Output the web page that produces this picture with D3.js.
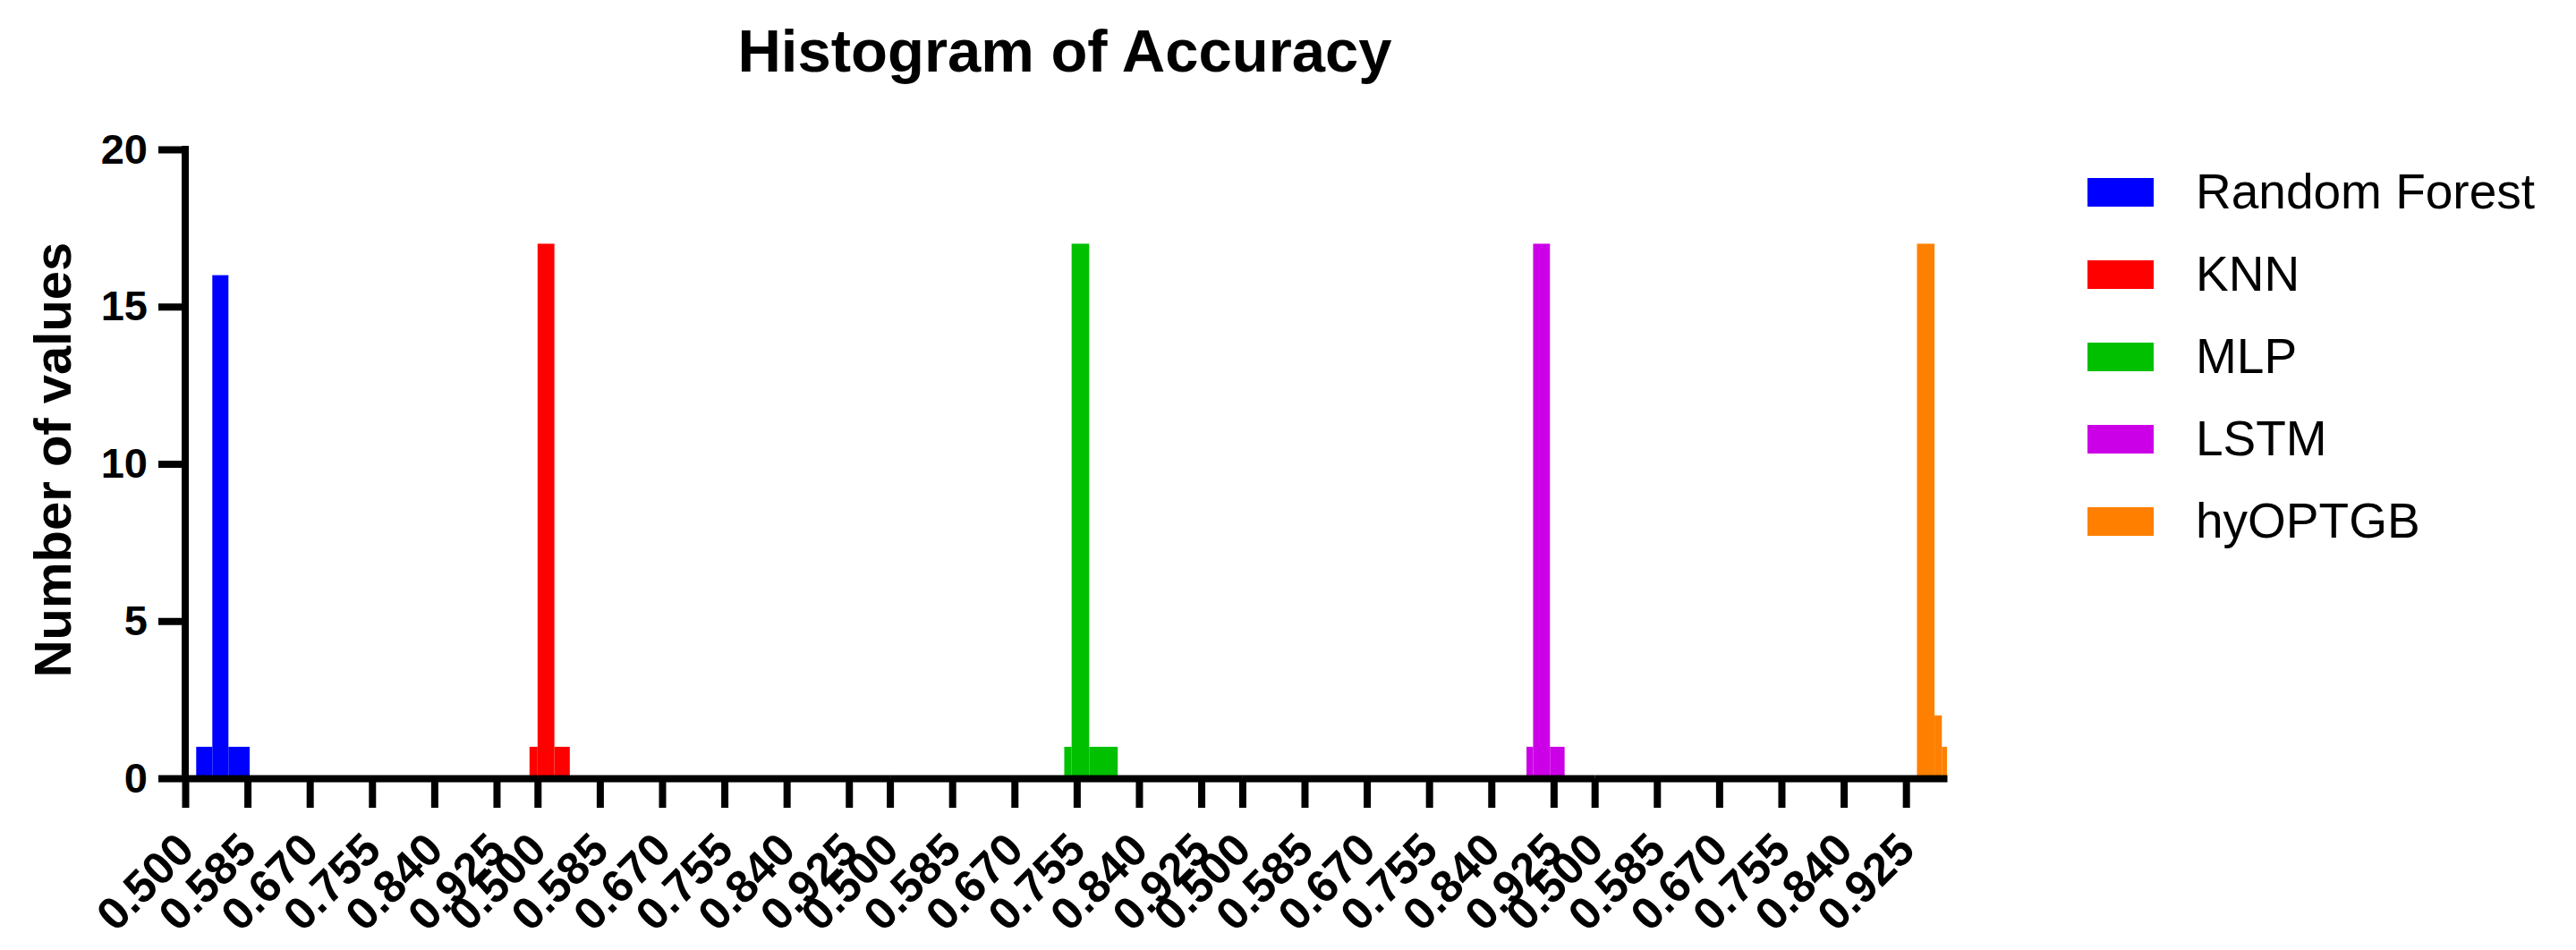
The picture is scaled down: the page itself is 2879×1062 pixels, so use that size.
<!DOCTYPE html>
<html lang="en">
<head>
  <meta charset="UTF-8">
  <title>Histogram of Accuracy</title>
  <script src="https://d3js.org/d3.v7.min.js"></script>
  <style>
    body { margin: 0; background: #fff; }
    text { font-family: "Liberation Sans", Arial, sans-serif; fill: #000; }
    .axis path, .axis line { stroke: #000; }
  </style>
</head>
<body>
<script>
// chart size
var width = 2879,
    height = 1062;

// data
var seriesNames = ["Random Forest", "KNN", "MLP", "LSTM", "hyOPTGB"];
var seriesColors = ["#0000ff", "#ff0000", "#00c000", "#cc00e6", "#ff8000"];
var xTicks = [0.500, 0.585, 0.670, 0.755, 0.840, 0.925];
var yTicks = [0, 5, 10, 15, 20];

// bin edges (accuracy) and counts, one pair per model
var rfEdges   = [0.515, 0.537, 0.559, 0.588];
var rfCounts  = [1, 16, 1];
var knnEdges  = [0.489, 0.500, 0.523, 0.544];
var knnCounts = [1, 17, 1];
var mlpEdges  = [0.738, 0.748, 0.772, 0.811];
var mlpCounts = [1, 17, 1];
var lstmEdges  = [0.888, 0.897, 0.920, 0.940];
var lstmCounts = [1, 17, 1];
var hyEdges   = [0.940, 0.964, 0.974, 0.981];
var hyCounts  = [17, 2, 1];

var allEdges = [rfEdges, knnEdges, mlpEdges, lstmEdges, hyEdges];
var allCounts = [rfCounts, knnCounts, mlpCounts, lstmCounts, hyCounts];

// layout
var plotLeft = 207, panelW = 393.8, plotTop = 167, plotBottom = 870;

var svg = d3.select("body").append("svg")
    .attr("width", width)
    .attr("height", height);

svg.append("rect").attr("width", width).attr("height", height).attr("fill", "#fff");

var x = d3.scaleLinear().domain([0.5, 0.981]).range([0, panelW]);
var y = d3.scaleLinear().domain([0, 20]).range([plotBottom, plotTop]);

// bars, one panel per model
seriesNames.forEach(function(name, i) {
  var edges = allEdges[i], counts = allCounts[i];
  var bins = counts.map(function(c, j) { return {x0: edges[j], x1: edges[j + 1], n: c}; });
  var g = svg.append("g").attr("transform", "translate(" + (plotLeft + i * panelW) + ",0)");
  g.selectAll("rect").data(bins).enter().append("rect")
    .attr("x", function(d) { return x(d.x0); })
    .attr("width", function(d) { return x(d.x1) - x(d.x0); })
    .attr("y", function(d) { return y(d.n); })
    .attr("height", function(d) { return y(0) - y(d.n); })
    .attr("fill", seriesColors[i]);
});

// x axes, repeated for every panel
seriesNames.forEach(function(name, i) {
  var ax = svg.append("g")
      .attr("class", "axis")
      .attr("transform", "translate(" + (plotLeft + i * panelW) + "," + plotBottom + ")")
      .call(d3.axisBottom(x).tickValues(xTicks).tickFormat(d3.format(".3f")).tickSize(33).tickSizeOuter(0));
  ax.select(".domain").attr("stroke-width", 8);
  ax.selectAll(".tick line").attr("stroke-width", 8);
  ax.selectAll(".tick text")
    .attr("font-size", 51)
    .attr("font-weight", "bold")
    .attr("text-anchor", "end")
    .attr("x", 12)
    .attr("y", 83)
    .attr("dy", 0)
    .attr("transform", "rotate(-45,12,83)");
});

// y axis
var yAx = svg.append("g")
    .attr("class", "axis")
    .attr("transform", "translate(" + plotLeft + ",0)")
    .call(d3.axisLeft(y).tickValues(yTicks).tickSize(30).tickSizeOuter(0).tickPadding(12));
yAx.select(".domain").attr("stroke-width", 8).attr("d", "M0," + (plotTop - 4) + "V" + (plotBottom + 4));
yAx.selectAll(".tick line").attr("stroke-width", 8);
yAx.selectAll(".tick text")
  .attr("font-size", 47)
  .attr("font-weight", "bold");

// titles
svg.append("text")
  .attr("x", 1190).attr("y", 80)
  .attr("text-anchor", "middle")
  .attr("font-size", 67)
  .attr("font-weight", "bold")
  .text("Histogram of Accuracy");

svg.append("text")
  .attr("transform", "translate(79,514) rotate(-90)")
  .attr("text-anchor", "middle")
  .attr("font-size", 58)
  .attr("font-weight", "bold")
  .text("Number of values");

// legend
var legend = svg.append("g").attr("transform", "translate(2333,199)");
var rows = legend.selectAll("g").data(seriesNames).enter().append("g")
  .attr("transform", function(d, i) { return "translate(0," + (i * 92) + ")"; });
rows.append("rect")
  .attr("width", 74).attr("height", 32)
  .attr("fill", function(d, i) { return seriesColors[i]; });
rows.append("text")
  .attr("x", 121).attr("y", 34)
  .attr("font-size", 55)
  .text(function(d) { return d; });
</script>
</body>
</html>
